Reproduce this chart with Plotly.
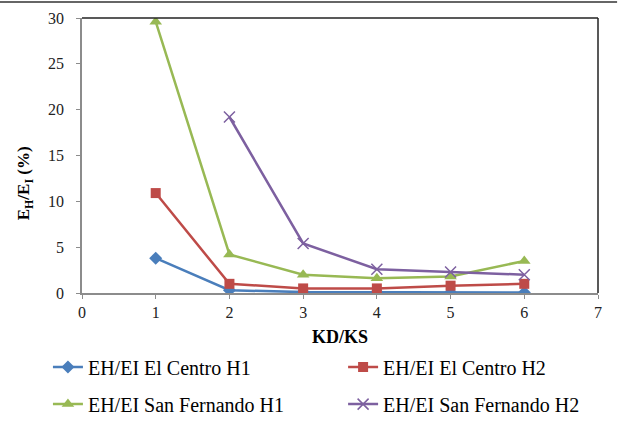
import plotly.graph_objects as go

x_vals = [1, 2, 3, 4, 5, 6]
x_sf2 = [2, 3, 4, 5, 6]
ec_h1 = [3.8, 0.3, 0.1, 0.1, 0.05, 0.05]
ec_h2 = [10.9, 1.0, 0.5, 0.5, 0.8, 1.0]
sf_h1 = [29.6, 4.2, 2.0, 1.6, 1.8, 3.5]
sf_h2 = [19.2, 5.4, 2.6, 2.3, 2.0]
names = ["EH/EI El Centro H1", "EH/EI El Centro H2", "EH/EI San Fernando H1", "EH/EI San Fernando H2"]
x_ticks = [0, 1, 2, 3, 4, 5, 6, 7]
y_ticks = [0, 5, 10, 15, 20, 25, 30]

FONT = "Liberation Serif"
fig = go.Figure()
fig.add_trace(go.Scatter(x=x_vals, y=ec_h1, name=names[0], mode="lines+markers",
                         line=dict(color="#4A7EBB", width=2.5),
                         marker=dict(symbol="diamond", size=10, color="#4A7EBB"), legend="legend2"))
fig.add_trace(go.Scatter(x=x_vals, y=ec_h2, name=names[1], mode="lines+markers",
                         line=dict(color="#BE4B48", width=2.5),
                         marker=dict(symbol="square", size=10, color="#BE4B48"), legend="legend3"))
fig.add_trace(go.Scatter(x=x_vals, y=sf_h1, name=names[2], mode="lines+markers",
                         line=dict(color="#98B954", width=2.5),
                         marker=dict(symbol="triangle-up", size=11, color="#98B954"), legend="legend4"))
fig.add_trace(go.Scatter(x=x_sf2, y=sf_h2, name=names[3], mode="lines+markers",
                         line=dict(color="#7D60A0", width=2.5),
                         marker=dict(symbol="x-thin", size=11, color="#7D60A0",
                                     line=dict(color="#7D60A0", width=1.5)), legend="legend5"))

leg_common = dict(orientation="h", xanchor="left", yanchor="middle", xref="paper", yref="paper",
                  font=dict(family=FONT, size=20, color="#000"),
                  bgcolor="rgba(0,0,0,0)")
fig.update_layout(
    width=627, height=428,
    margin=dict(l=82, r=29, t=18, b=135, autoexpand=False),
    paper_bgcolor="white", plot_bgcolor="white",
    font=dict(family=FONT, size=16, color="#000"),
    legend2=dict(x=-0.066, y=-0.269, **leg_common),
    legend3=dict(x=0.506, y=-0.269, **leg_common),
    legend4=dict(x=-0.066, y=-0.404, **leg_common),
    legend5=dict(x=0.506, y=-0.404, **leg_common),
    xaxis=dict(range=[0, 7], tickvals=x_ticks, showgrid=False, zeroline=False,
               showline=True, linecolor="#8C8C8C", linewidth=1.5,
               ticks="outside", ticklen=4, tickcolor="#8C8C8C",
               title=dict(text="<b>KD/KS</b>", font=dict(family=FONT, size=18), standoff=10),
               tickfont=dict(family=FONT, size=16, color="#222")),
    yaxis=dict(range=[0, 30], tickvals=y_ticks, showgrid=False, zeroline=False,
               showline=True, linecolor="#8C8C8C", linewidth=1.5,
               ticks="outside", ticklen=4, tickcolor="#8C8C8C", ticklabelstandoff=9,
               tickfont=dict(family=FONT, size=16, color="#222")),
    annotations=[dict(text="<b>E<sub>H</sub>/E<sub>I</sub> (%)</b>", textangle=-90,
                      xref="paper", yref="paper", x=-0.110, y=0.40,
                      xanchor="center", yanchor="middle", showarrow=False,
                      font=dict(family=FONT, size=17, color="#000"))],
    shapes=[
        dict(type="line", xref="paper", yref="paper", x0=0, x1=1, y0=1, y1=1,
             line=dict(color="#222", width=1.5)),
        dict(type="line", xref="paper", yref="paper", x0=1, x1=1, y0=0, y1=1,
             line=dict(color="#222", width=1.5)),
        dict(type="line", xref="paper", yref="paper", x0=-0.159, x1=1.037, y0=1.058, y1=1.058,
             line=dict(color="#333", width=1.5)),
    ],
)
fig.write_html("out.html")
